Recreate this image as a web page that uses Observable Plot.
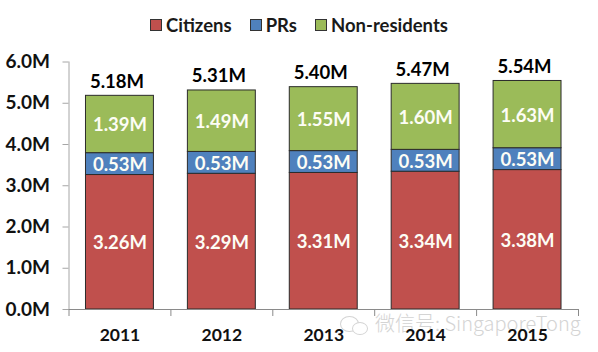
<!DOCTYPE html>
<html><head><meta charset="utf-8">
<script src="https://cdn.jsdelivr.net/npm/d3@7"></script>
<script src="https://cdn.jsdelivr.net/npm/@observablehq/plot@0.6"></script>
<style>
html,body{margin:0;padding:0;background:#fff;}
#wrap{position:relative;width:598px;height:352px;overflow:hidden;font-family:Lato,"Open Sans",sans-serif;}
#legend{position:absolute;top:14px;left:150px;display:flex;align-items:center;font:bold 18.5px Lato,sans-serif;color:#1a1a1a;white-space:nowrap;}
#legend i{display:inline-block;width:10px;height:10px;border:1px solid #333;margin-right:4px;}
#legend span{display:flex;align-items:center;margin-right:18px;}
#wm{position:absolute;left:375px;top:308px;font:300 20px "Noto Sans CJK SC",Lato,sans-serif;color:#d4d4d4;letter-spacing:0;white-space:nowrap;}
.bub{position:absolute;border:1px solid #d4d4d4;border-radius:50%;background:#fff;}
</style></head>
<body><div id="wrap"><div id="legend"></div></div>
<script>
const years = ["2011","2012","2013","2014","2015"];
const series = ["Citizens","PRs","Non-residents"];
const colors = ["#C0504D","#4F81BD","#9BBB59"];
const citizens = [3.26,3.29,3.31,3.34,3.38];
const prs = [0.53,0.53,0.53,0.53,0.53];
const nonResidents = [1.39,1.49,1.55,1.60,1.63];
const totals = [5.18,5.31,5.40,5.47,5.54];
const yTicks = [0,1,2,3,4,5,6];

const fmt = v => v.toFixed(2) + "M";
const rows = [citizens,prs,nonResidents].flatMap((vals,s) =>
  vals.map((v,i) => ({year:years[i],series:series[s],value:v})));
const totalRows = years.map((y,i) => ({year:y,total:totals[i]}));
const step = 101.9;

const chart = Plot.plot({
  width:598,height:352,
  marginLeft:68.5,marginRight:20,marginTop:61.5,marginBottom:43,
  style:{fontFamily:"Lato, sans-serif",background:"transparent"},
  x:{domain:years,paddingInner:1/3,paddingOuter:1/6,round:false,label:null},
  y:{domain:[0,6],label:null},
  color:{domain:series,range:colors},
  marks:[
    Plot.barY(rows,{x:"year",y:"value",z:"series",fill:"series",order:series,stroke:"#2b2b2b",strokeWidth:1}),
    Plot.text(rows,Plot.stackY({x:"year",y:"value",z:"series",order:series,text:d=>fmt(d.value),dy:1,fill:"#fdfdf5",fontSize:18.5,fontWeight:700})),
    Plot.text(totalRows,{x:"year",y:"total",text:d=>fmt(d.total),dx:-3,dy:-8,lineAnchor:"bottom",fill:"#000",fontSize:18.5,fontWeight:700}),
    Plot.axisY({ticks:yTicks,tickSize:6,tickPadding:13,stroke:"#a6a6a6",tickFormat:d=>d.toFixed(1)+"M",fill:"#111",fontSize:19,fontWeight:700,label:null,anchor:"left"}),
    Plot.ruleX([0],{x:()=>years[0],dx:-step/2,y1:0,y2:6,stroke:"#a6a6a6"}),
    Plot.ruleY([0],{stroke:"#8a8a8a"}),
    Plot.axisX({ticks:years,tickSize:7,dx:-step/2,stroke:"#8a8a8a",text:null,label:null}),
    Plot.axisX({ticks:[years[4]],tickSize:7,dx:step/2,stroke:"#8a8a8a",text:null,label:null}),
    Plot.axisX({ticks:years,tickSize:0,tickPadding:19,fill:"#111",fontSize:17.5,fontWeight:700,label:null})
  ]
});
const wrap = document.getElementById("wrap");
const legend = document.getElementById("legend");
series.forEach((s,i)=>{
  const el=document.createElement("span");
  const sw=document.createElement("i");sw.style.background=colors[i];
  el.appendChild(sw);el.appendChild(document.createTextNode(s));
  legend.appendChild(el);
});
[[340,316,17,14],[352,322,14,11]].forEach(([l,t,w,h])=>{
  const b=document.createElement("div");b.className="bub";
  b.style.cssText=`left:${l}px;top:${t}px;width:${w}px;height:${h}px`;
  wrap.appendChild(b);
});
const wm=document.createElement("div");wm.id="wm";wm.textContent="微信号: SingaporeTong";
wrap.appendChild(wm);
wrap.appendChild(chart);
chart.style.position="absolute";chart.style.left="0";chart.style.top="0";
</script></body></html>
